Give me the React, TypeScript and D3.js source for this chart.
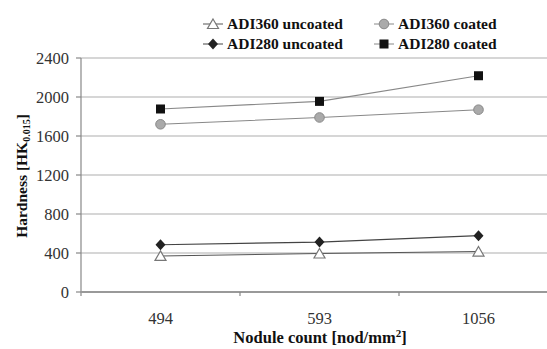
import * as React from "react";
import * as d3 from "d3";

const categories = ["494", "593", "1056"];
const adi360Uncoated = [370, 395, 415];
const adi360Coated = [1720, 1790, 1870];
const adi280Uncoated = [485, 512, 578];
const adi280Coated = [1877, 1955, 2218];
const yTicks = [0, 400, 800, 1200, 1600, 2000, 2400];

type Marker = "triangle" | "circle" | "diamond" | "square";

interface Series {
  name: string;
  values: number[];
  marker: Marker;
  line: string;
}

const series: Series[] = [
  { name: "ADI360 uncoated", values: adi360Uncoated, marker: "triangle", line: "#555" },
  { name: "ADI360 coated", values: adi360Coated, marker: "circle", line: "#888" },
  { name: "ADI280 uncoated", values: adi280Uncoated, marker: "diamond", line: "#444" },
  { name: "ADI280 coated", values: adi280Coated, marker: "square", line: "#888" },
];

const FONT = "'Liberation Serif', 'Times New Roman', serif";

function drawMarker(m: Marker, x: number, y: number, key: string) {
  switch (m) {
    case "triangle":
      return <path key={key} d={`M${x},${y - 5}L${x + 5.5},${y + 4.5}L${x - 5.5},${y + 4.5}Z`} fill="#fff" stroke="#777" strokeWidth={1.2} />;
    case "circle":
      return <circle key={key} cx={x} cy={y} r={4.8} fill="#aaa" stroke="#888" strokeWidth={1} />;
    case "diamond":
      return <path key={key} d={`M${x},${y - 5.5}L${x + 5},${y}L${x},${y + 5.5}L${x - 5},${y}Z`} fill="#222" />;
    case "square":
      return <rect key={key} x={x - 4.5} y={y - 4.5} width={9} height={9} fill="#111" />;
  }
}

export default function App() {
  const width = 547;
  const height = 349;
  const x = d3.scaleBand<string>().domain(categories).range([81, 558]);
  const y = d3.scaleLinear().domain([0, 2400]).range([292, 58]);
  const line = d3.line<number>()
    .x((_, i) => x(categories[i])! + x.bandwidth() / 2)
    .y((d) => y(d));

  const legendPos = [
    { lx: 203, ly: 24 },
    { lx: 374, ly: 24 },
    { lx: 203, ly: 44 },
    { lx: 374, ly: 44 },
  ];

  return (
    <svg width={width} height={height} style={{ position: "absolute", left: 0, top: 0, background: "#fff" }}>
      <rect width={width} height={height} fill="#fff" />
      {/* gridlines */}
      {yTicks.slice(1).map((t) => (
        <line key={t} x1={81} x2={width} y1={y(t)} y2={y(t)} stroke="#c8c8c8" strokeWidth={1.5} />
      ))}
      {/* y axis */}
      <line x1={81} x2={81} y1={y(2400)} y2={y(0) + 4} stroke="#888" strokeWidth={1.2} />
      {yTicks.map((t) => (
        <g key={t}>
          <line x1={76} x2={81} y1={y(t)} y2={y(t)} stroke="#888" strokeWidth={1.2} />
          <text x={69} y={y(t)} dy="0.35em" textAnchor="end" fontFamily={FONT} fontSize={16.5} fill="#333">{t}</text>
        </g>
      ))}
      {/* x axis */}
      <line x1={81} x2={width} y1={y(0)} y2={y(0)} stroke="#999" strokeWidth={1.8} />
      {categories.map((c, i) => (
        <g key={c}>
          {i > 0 && <line x1={x(c)!} x2={x(c)!} y1={y(0)} y2={y(0) + 4} stroke="#888" strokeWidth={1.2} />}
          <text x={x(c)! + x.bandwidth() / 2} y={318} dy="0.35em" textAnchor="middle" fontFamily={FONT} fontSize={16.5} fill="#333">{c}</text>
        </g>
      ))}
      {/* series */}
      {series.map((s) => (
        <g key={s.name}>
          <path d={line(s.values)!} fill="none" stroke={s.line} strokeWidth={1.1} />
          {s.values.map((v, i) => drawMarker(s.marker, x(categories[i])! + x.bandwidth() / 2, y(v), s.name + i))}
        </g>
      ))}
      {/* axis titles */}
      <text x={320} y={343} textAnchor="middle" fontFamily={FONT} fontSize={16.5} fontWeight="bold" fill="#111">
        Nodule count [nod/mm<tspan dy={-6} fontSize={11}>2</tspan><tspan dy={6}>]</tspan>
      </text>
      <text transform="translate(27,176) rotate(-90)" textAnchor="middle" fontFamily={FONT} fontSize={15.5} fontWeight="bold" fill="#111">
        Hardness [HK<tspan dy={3} fontSize={10}>0.015</tspan><tspan dy={-3}>]</tspan>
      </text>
      {/* legend */}
      {series.map((s, i) => {
        const p = legendPos[i];
        return (
          <g key={s.name}>
            <line x1={p.lx} x2={p.lx + 20} y1={p.ly} y2={p.ly} stroke={s.line} strokeWidth={1} />
            {drawMarker(s.marker, p.lx + 10, p.ly, "lg" + i)}
            <text x={p.lx + 24} y={p.ly} dy="0.35em" fontFamily={FONT} fontSize={15.5} fontWeight="bold" fill="#111">{s.name}</text>
          </g>
        );
      })}
    </svg>
  );
}
